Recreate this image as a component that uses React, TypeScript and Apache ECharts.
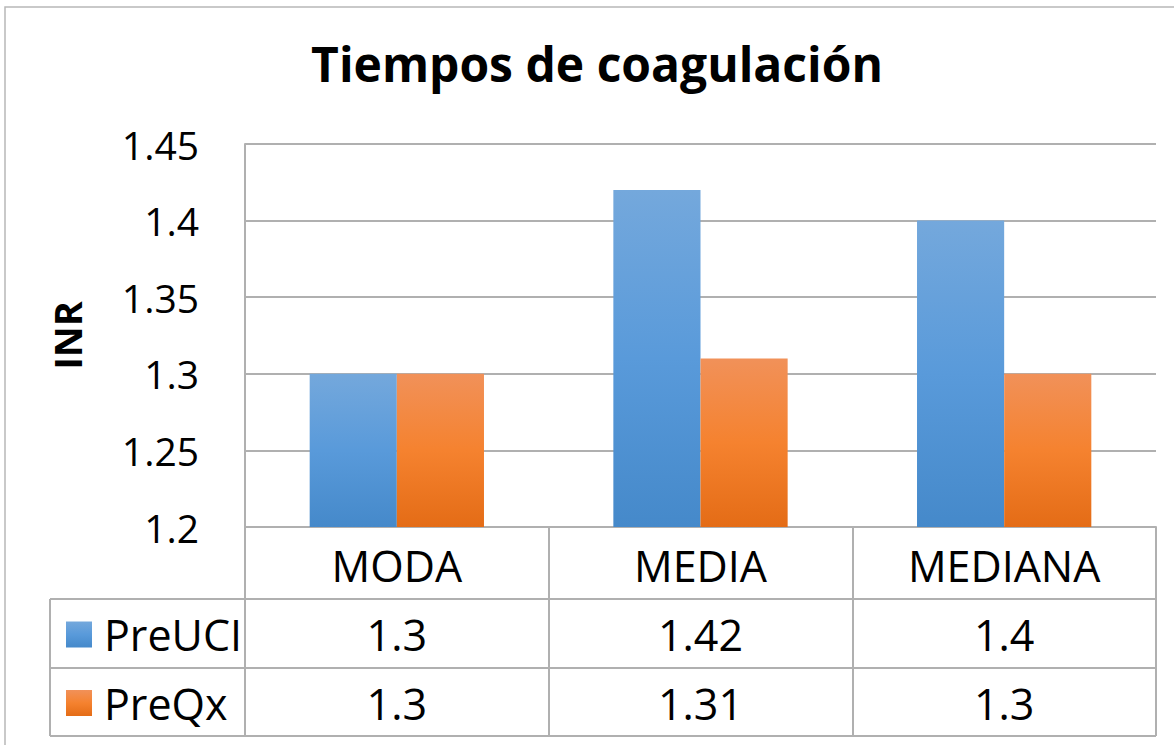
import React, { useEffect, useRef } from "react";
import * as echarts from "echarts";

const categories = ["MODA", "MEDIA", "MEDIANA"];
const seriesNames = ["PreUCI", "PreQx"];
const preUCI = [1.3, 1.42, 1.4];
const preQx = [1.3, 1.31, 1.3];
const yMin = 1.2;
const yMax = 1.45;
const yStep = 0.05;
const titleText = "Tiempos de coagulación";
const yAxisName = "INR";

const FONT = "'Open Sans', 'Noto Sans', sans-serif";
const GRID_COLOR = "#B0B0B0";
const TABLE_FONT = 43;

const blueGrad = () =>
  new echarts.graphic.LinearGradient(0, 0, 0, 1, [
    { offset: 0, color: "#74A8DC" },
    { offset: 0.5, color: "#599ADA" },
    { offset: 1, color: "#4589CA" },
  ]);
const orangeGrad = () =>
  new echarts.graphic.LinearGradient(0, 0, 0, 1, [
    { offset: 0, color: "#F19159" },
    { offset: 0.5, color: "#F5822F" },
    { offset: 1, color: "#E46C16" },
  ]);

const W = 1174;
const H = 745;
const GRID = { left: 245, right: 18, top: 144, bottom: 218 };
const TABLE_LEFT = 50;
const ROW_LINES = [599, 668, 736];

export default function App() {
  const ref = useRef<HTMLDivElement>(null);
  useEffect(() => {
    if (!ref.current) return;
    const chart = echarts.init(ref.current, null, { renderer: "svg" });
    const seriesData = [preUCI, preQx];
    const grads = [blueGrad, orangeGrad];
    chart.setOption({
      animation: false,
      backgroundColor: "#ffffff",
      grid: { ...GRID, containLabel: false },
      xAxis: {
        type: "category",
        data: categories,
        axisLine: { show: true, lineStyle: { color: GRID_COLOR, width: 2 } },
        axisTick: {
          show: true,
          length: ROW_LINES[2] - (H - GRID.bottom),
          lineStyle: { color: GRID_COLOR, width: 2 },
        },
        axisLabel: {
          color: "#000",
          fontFamily: FONT,
          fontSize: TABLE_FONT,
          lineHeight: 44,
          margin: 16,
        },
      },
      yAxis: {
        type: "value",
        min: yMin,
        max: yMax,
        interval: yStep,
        name: yAxisName,
        nameLocation: "middle",
        nameGap: 159,
        nameRotate: 90,
        nameTextStyle: {
          color: "#000",
          fontFamily: FONT,
          fontSize: 38,
          fontWeight: "bold",
        },
        axisLine: { show: true, lineStyle: { color: GRID_COLOR, width: 2 } },
        axisTick: { show: false },
        splitLine: { show: true, lineStyle: { color: GRID_COLOR, width: 2 } },
        axisLabel: {
          color: "#000",
          fontFamily: FONT,
          fontSize: 39,
          margin: 46,
          formatter: (v: number) => String(parseFloat(v.toFixed(2))),
        },
      },
      series: seriesNames.map((name, i) => ({
        name,
        type: "bar",
        data: seriesData[i],
        barGap: "0%",
        barCategoryGap: "42.6%",
        itemStyle: { color: grads[i]() },
      })),
    });

    // data table built from the same arrays
    const graphic: any[] = [];
    graphic.push({
      type: "rect",
      silent: true,
      shape: { x: 5, y: 7, width: 1300, height: 900 },
      style: { fill: "none", stroke: "#B8B8B8", lineWidth: 1.5 },
      z: -1,
    });
    graphic.push({
      type: "text",
      x: 597,
      y: 63,
      style: {
        text: titleText,
        fontFamily: FONT,
        fontSize: 48,
        fontWeight: "bold",
        fill: "#000",
        textAlign: "center",
        textVerticalAlign: "middle",
      },
    });
    const right = W - GRID.right;
    ROW_LINES.forEach((y) => {
      graphic.push({
        type: "line",
        shape: { x1: TABLE_LEFT, y1: y, x2: right, y2: y },
        style: { stroke: GRID_COLOR, lineWidth: 2 },
      });
    });
    graphic.push({
      type: "line",
      shape: { x1: TABLE_LEFT, y1: ROW_LINES[0], x2: TABLE_LEFT, y2: ROW_LINES[2] },
      style: { stroke: GRID_COLOR, lineWidth: 2 },
    });
    seriesNames.forEach((name, r) => {
      const cy = (ROW_LINES[r] + ROW_LINES[r + 1]) / 2 + 1;
      graphic.push({
        type: "rect",
        shape: { x: 66, y: cy - 13, width: 26, height: 26 },
        style: { fill: grads[r]() },
      });
      graphic.push({
        type: "text",
        x: 104,
        y: cy,
        style: {
          text: name,
          fontFamily: FONT,
          fontSize: TABLE_FONT,
          fill: "#000",
          textAlign: "left",
          textVerticalAlign: "middle",
        },
      });
      categories.forEach((c, ci) => {
        const px = chart.convertToPixel({ xAxisIndex: 0 }, c) as number;
        graphic.push({
          type: "text",
          x: px,
          y: cy,
          style: {
            text: String(seriesData[r][ci]),
            fontFamily: FONT,
            fontSize: TABLE_FONT,
            fill: "#000",
            textAlign: "center",
            textVerticalAlign: "middle",
          },
        });
      });
    });
    chart.setOption({ graphic });

    return () => chart.dispose();
  }, []);
  return (
    <div
      ref={ref}
      style={{ position: "absolute", left: 0, top: 0, width: W, height: H }}
    />
  );
}
